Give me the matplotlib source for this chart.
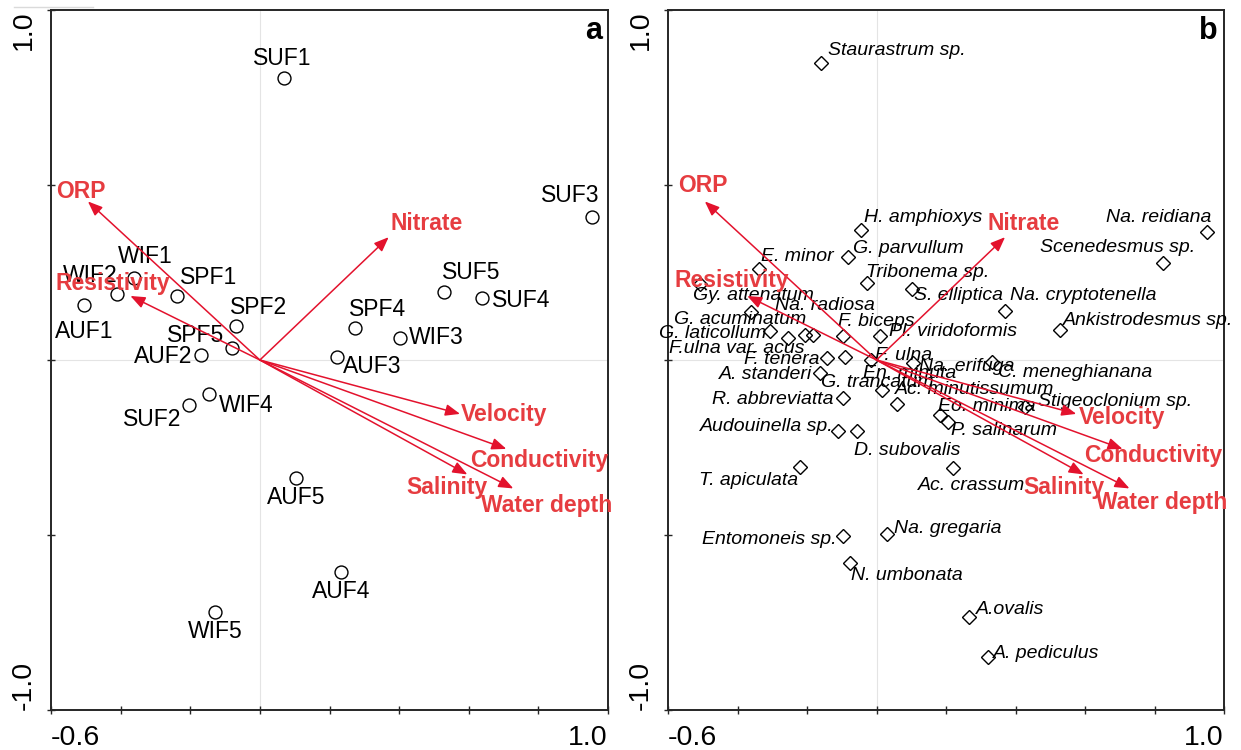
import matplotlib.pyplot as plt
from matplotlib.lines import Line2D
import numpy as np

plt.rcParams["font.family"] = ["Liberation Sans", "DejaVu Sans"]

# environmental variables (same biplot arrows in both panels)
env_names = ["ORP", "Resistivity", "Nitrate", "Velocity", "Conductivity",
             "Salinity", "Water depth"]
env_x = [-0.494, -0.372, 0.370, 0.575, 0.708, 0.596, 0.728]
env_y = [0.453, 0.183, 0.351, -0.154, -0.254, -0.327, -0.367]

# sampling sites (panel a)
site_names = ["SUF1", "SUF3", "SUF5", "SUF4", "SPF4", "WIF3", "AUF3", "WIF1",
              "WIF2", "AUF1", "SPF1", "SPF2", "SPF5", "AUF2", "WIF4", "SUF2",
              "AUF5", "AUF4", "WIF5"]
site_x = [0.068, 0.955, 0.529, 0.639, 0.273, 0.403, 0.221, -0.361,
          -0.410, -0.504, -0.237, -0.069, -0.080, -0.169, -0.146, -0.205,
          0.105, 0.233, -0.129]
site_y = [0.805, 0.409, 0.194, 0.178, 0.091, 0.062, 0.010, 0.235,
          0.188, 0.156, 0.183, 0.097, 0.033, 0.014, -0.098, -0.129,
          -0.338, -0.607, -0.721]

# algal species (panel b)
sp_names = ["Staurastrum sp.", "H. amphioxys", "G. parvullum", "E. minor",
            "Tribonema sp.", "S. elliptica", "Na. cryptotenella",
            "Na. reidiana", "Scenedesmus sp.", "Ankistrodesmus sp.",
            "Gy. attenatum", "Na. radiosa", "G. acuminatum", "G. laticollum",
            "F.ulna var. acus", "F. tenera", "F. biceps", "Pl. viridoformis",
            "F. ulna", "A. standeri", "Na. erifuga", "C. meneghianana",
            "G. trancatum", "En. minuta", "Ac. minutissumum",
            "Stigeoclonium sp.", "R. abbreviatta", "Eo. minima",
            "P. salinarum", "Audouinella sp.", "D. subovalis", "T. apiculata",
            "Ac. crassum", "Entomoneis sp.", "Na. gregaria", "N. umbonata",
            "A.ovalis", "A. pediculus", ""]
sp_x = [-0.160, -0.045, -0.082, -0.338, -0.028, 0.102, 0.369, 0.950, 0.825,
        0.529, -0.508, -0.206, -0.361, -0.306, -0.254, -0.143, -0.096, 0.010,
        -0.017, -0.163, 0.106, 0.332, 0.015, -0.091, 0.058, 0.427, -0.096,
        0.183, 0.205, -0.110, -0.057, -0.219, 0.219, -0.096, 0.029, -0.077,
        0.267, 0.321, -0.182]
sp_y = [0.849, 0.371, 0.293, 0.259, 0.219, 0.204, 0.141, 0.367, 0.276,
        0.086, 0.217, 0.071, 0.138, 0.084, 0.062, 0.005, 0.069, 0.069,
        0.000, -0.038, -0.009, -0.005, -0.086, 0.008, -0.126, -0.133, -0.109,
        -0.157, -0.176, -0.203, -0.203, -0.305, -0.309, -0.503, -0.498,
        -0.581, -0.733, -0.849, 0.071]

# label offsets in points from each mark
site_off = {"SUF1": (-0.6, 13.9), "SUF3": (-16.2, 15.6), "SUF5": (19.4, 13.9),
            "SUF4": (27.9, -1.7), "SPF4": (16.3, 13.7), "WIF3": (25.7, 0.7),
            "AUF3": (25.6, -7.2), "WIF1": (7.7, 15.1), "WIF2": (-19.1, 13.2),
            "AUF1": (0, -18.5), "SPF1": (22.2, 13.2), "SPF2": (16.3, 13.2),
            "SPF5": (-26.2, 9.6), "AUF2": (-27.6, -0.7), "WIF4": (26.6, -8.4),
            "SUF2": (-26.5, -10.3), "AUF5": (0, -14), "AUF4": (0, -14),
            "WIF5": (0, -13.5)}
sp_off = [(54.9, 8.6), (44.6, 9.1), (43.5, 6.5), (27.9, 9.6), (43.9, 7.6),
          (33.6, -5.3), (56.2, 10.6), (-34.4, 10.4), (-32.8, 11.5),
          (63.2, 6.7), (38.2, -8.6), (14.4, 21.6), (-7.9, -5.5), (-41.4, -1.9),
          (-37.2, -7.2), (-32.4, -1.2), (24, 10.3), (52.8, 3.1), (23.5, 3.6),
          (-38.9, -1.2), (38.4, -2.4), (60, -7.9), (-2.9, 5.3), (46.8, -12),
          (55.9, 10.6), (64.6, 3.6), (-50.8, -1.2), (33.6, 6), (40.5, -6.7),
          (-51.5, 3.6), (36.4, -14.2), (-37, -9.6), (13.7, -12.7),
          (-53.5, -2.4), (44.1, 4.3), (41.3, -8.4), (29.3, 4.8), (42.1, 2.4),
          (0, 0)]
env_off_a = [(-4.8, 7.2), (-12.8, 9.1), (27.4, 10.1), (32, -0.5),
             (23.4, -8.2), (-15, -9.6), (24.2, -12)]
env_off_b = [(-1.7, 11.5), (-11.4, 10.8), (13.7, 9.6), (32.8, -2.9),
             (21.9, -4.8), (-14.2, -9.1), (22.8, -10.1)]

arrow_col = "#e3122d"
env_text_col = "#e63c40"

fig = plt.figure(figsize=(12.41, 7.5), dpi=100)
ax_a = fig.add_axes([51 / 1241, 40 / 750, 557 / 1241, 700 / 750])
ax_b = fig.add_axes([668 / 1241, 40 / 750, 556 / 1241, 700 / 750])


def style_axes(ax, letter):
    ax.set_xlim(-0.6, 1.0)
    ax.set_ylim(-1.0, 1.0)
    ax.axhline(0, color="#e4e4e4", lw=0.8, zorder=0)
    ax.axvline(0, color="#e4e4e4", lw=0.8, zorder=0)
    ax.set_xticks(np.linspace(-0.6, 1.0, 9))
    ax.set_xticklabels(["-0.6"] + [""] * 7 + ["1.0"])
    ax.set_yticks(np.linspace(-1.0, 1.0, 5))
    ax.set_yticklabels(["-1.0", "", "", "", "1.0"])
    ax.tick_params(direction="inout", length=6, width=1.0, color="#262626",
                   labelsize=20.5, pad=7.5)
    xl = ax.get_xticklabels()
    xl[0].set_ha("left")
    xl[-1].set_ha("right")
    yl = ax.get_yticklabels()
    for lbl in yl:
        lbl.set_rotation(90)
    yl[0].set_va("bottom")
    yl[-1].set_va("top")
    for sp in ax.spines.values():
        sp.set_linewidth(1.4)
        sp.set_color("#262626")
    ax.text(0.989, 0.992, letter, transform=ax.transAxes, ha="right",
            va="top", fontsize=22, fontweight="bold")


def draw_env(ax, offsets):
    for name, x, y, off in zip(env_names, env_x, env_y, offsets):
        ax.annotate("", xy=(x, y), xytext=(0, 0),
                    arrowprops=dict(arrowstyle="-|>,head_length=0.55,head_width=0.22",
                                    color=arrow_col, lw=1.1, shrinkA=0, shrinkB=0,
                                    mutation_scale=16),
                    zorder=5)
        ax.annotate(name, xy=(x, y), xytext=off, textcoords="offset points",
                    ha="center", va="center", fontsize=16.5, fontweight="bold",
                    color=env_text_col, zorder=6)


# panel a: sites
style_axes(ax_a, "a")
ax_a.plot(site_x, site_y, "o", ms=9.3, mfc="none", mec="black", mew=1.0,
          zorder=3)
for name, x, y in zip(site_names, site_x, site_y):
    ax_a.annotate(name, xy=(x, y), xytext=site_off[name],
                  textcoords="offset points", ha="center", va="center",
                  fontsize=16.5, color="black", zorder=4)
draw_env(ax_a, env_off_a)

# panel b: species
style_axes(ax_b, "b")
ax_b.plot(sp_x, sp_y, "D", ms=7.2, mfc="none", mec="black", mew=1.0,
          zorder=3)
for name, x, y, off in zip(sp_names, sp_x, sp_y, sp_off):
    if name:
        ax_b.annotate(name, xy=(x, y), xytext=off, textcoords="offset points",
                      ha="center", va="center", fontsize=14, style="italic",
                      color="black", zorder=4)
draw_env(ax_b, env_off_b)

fig.add_artist(Line2D([14 / 1241, 93 / 1241], [1 - 7 / 750, 1 - 7 / 750],
                      color="#dadada", lw=1.0))

fig.savefig("out.png", dpi=100)
